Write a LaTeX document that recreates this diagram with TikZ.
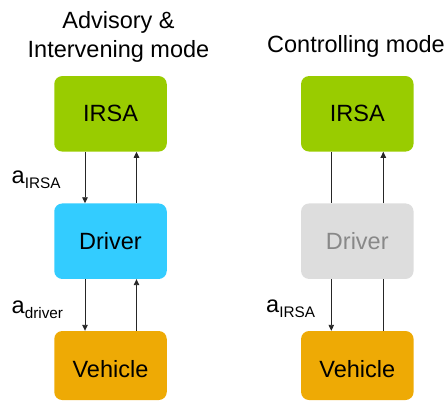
\documentclass[tikz,border=0pt]{standalone}
\usepackage{fontspec}
\setmainfont{Liberation Sans}
\usetikzlibrary{arrows.meta}
\definecolor{irsagreen}{HTML}{99CC00}
\definecolor{drivercyan}{HTML}{33CCFF}
\definecolor{vehicleorange}{HTML}{EEAA05}
\definecolor{drivergrey}{HTML}{DDDDDD}
\definecolor{greytext}{HTML}{888888}
\tikzset{
  block/.style={rounded corners=8bp, minimum width=112.5bp, minimum height=75.5bp, inner sep=0pt,
    font=\fontsize{23.5bp}{28bp}\selectfont},
  title/.style={align=center, font=\fontsize{23.5bp}{29bp}\selectfont, inner sep=0pt},
  lbl/.style={font=\fontsize{23.5bp}{28bp}\selectfont, inner sep=0pt, anchor=base west},
  flow/.style={line width=0.9bp, draw=black!85},
  tip/.style={-{Triangle[length=6bp,width=5.5bp]}}
}
\newcommand{\subl}[1]{\raisebox{-5bp}{\fontsize{15.3bp}{18bp}\selectfont #1}}
\newcommand{\lowtext}[1]{\raisebox{-4bp}[\height][\depth]{#1}}
\begin{document}
\begin{tikzpicture}[x=1bp,y=-1bp]
\useasboundingbox (0,0) rectangle (446,402);
% titles
\node[title, anchor=base] (t1) at (118.5,28.8) {Advisory \&};
\node[title, anchor=base] (t1b) at (118.5,57.8) {Intervening mode};
\node[title, anchor=base] (t2) at (356,52) {Controlling mode};
% left column
\node[block, fill=irsagreen] (irsa1) at (110.5,113.8) {IRSA};
\node[block, fill=drivercyan] (driver1) at (110.5,241.2) {Driver};
\node[block, fill=vehicleorange, minimum height=69bp] (veh1) at (110.5,365.5) {\lowtext{Vehicle}};
% right column
\node[block, fill=irsagreen] (irsa2) at (357.3,113.8) {IRSA};
\node[block, fill=drivergrey, text=greytext] (driver2) at (357.3,241.2) {Driver};
\node[block, fill=vehicleorange, minimum height=69bp] (veh2) at (357.3,365.5) {\lowtext{Vehicle}};
% left connectors
\draw[flow, tip] ([xshift=-25.5bp]irsa1.south) -- ([xshift=-25.5bp]driver1.north);
\draw[flow, tip] ([xshift=26bp]driver1.north) -- ([xshift=26bp]irsa1.south);
\draw[flow, tip] ([xshift=-25.5bp]driver1.south) -- ([xshift=-25.5bp]veh1.north);
\draw[flow, tip] ([xshift=26bp]veh1.north) -- ([xshift=26bp]driver1.south);
% right connectors
\draw[flow] ([xshift=-26bp]irsa2.south) -- ([xshift=-26bp]driver2.north);
\draw[flow, tip] ([xshift=-26bp]driver2.south) -- ([xshift=-26bp]veh2.north);
\draw[flow] ([xshift=26bp]veh2.north) -- ([xshift=26bp]driver2.south);
\draw[flow, tip] ([xshift=26bp]driver2.north) -- ([xshift=26bp]irsa2.south);
% labels
\node[lbl] (l1) at (11.5,183.5) {a\subl{IRSA}};
\node[lbl] (l2) at (11.5,313) {a\subl{driver}};
\node[lbl] (l3) at (266,312.5) {a\subl{IRSA}};
\end{tikzpicture}
\end{document}
